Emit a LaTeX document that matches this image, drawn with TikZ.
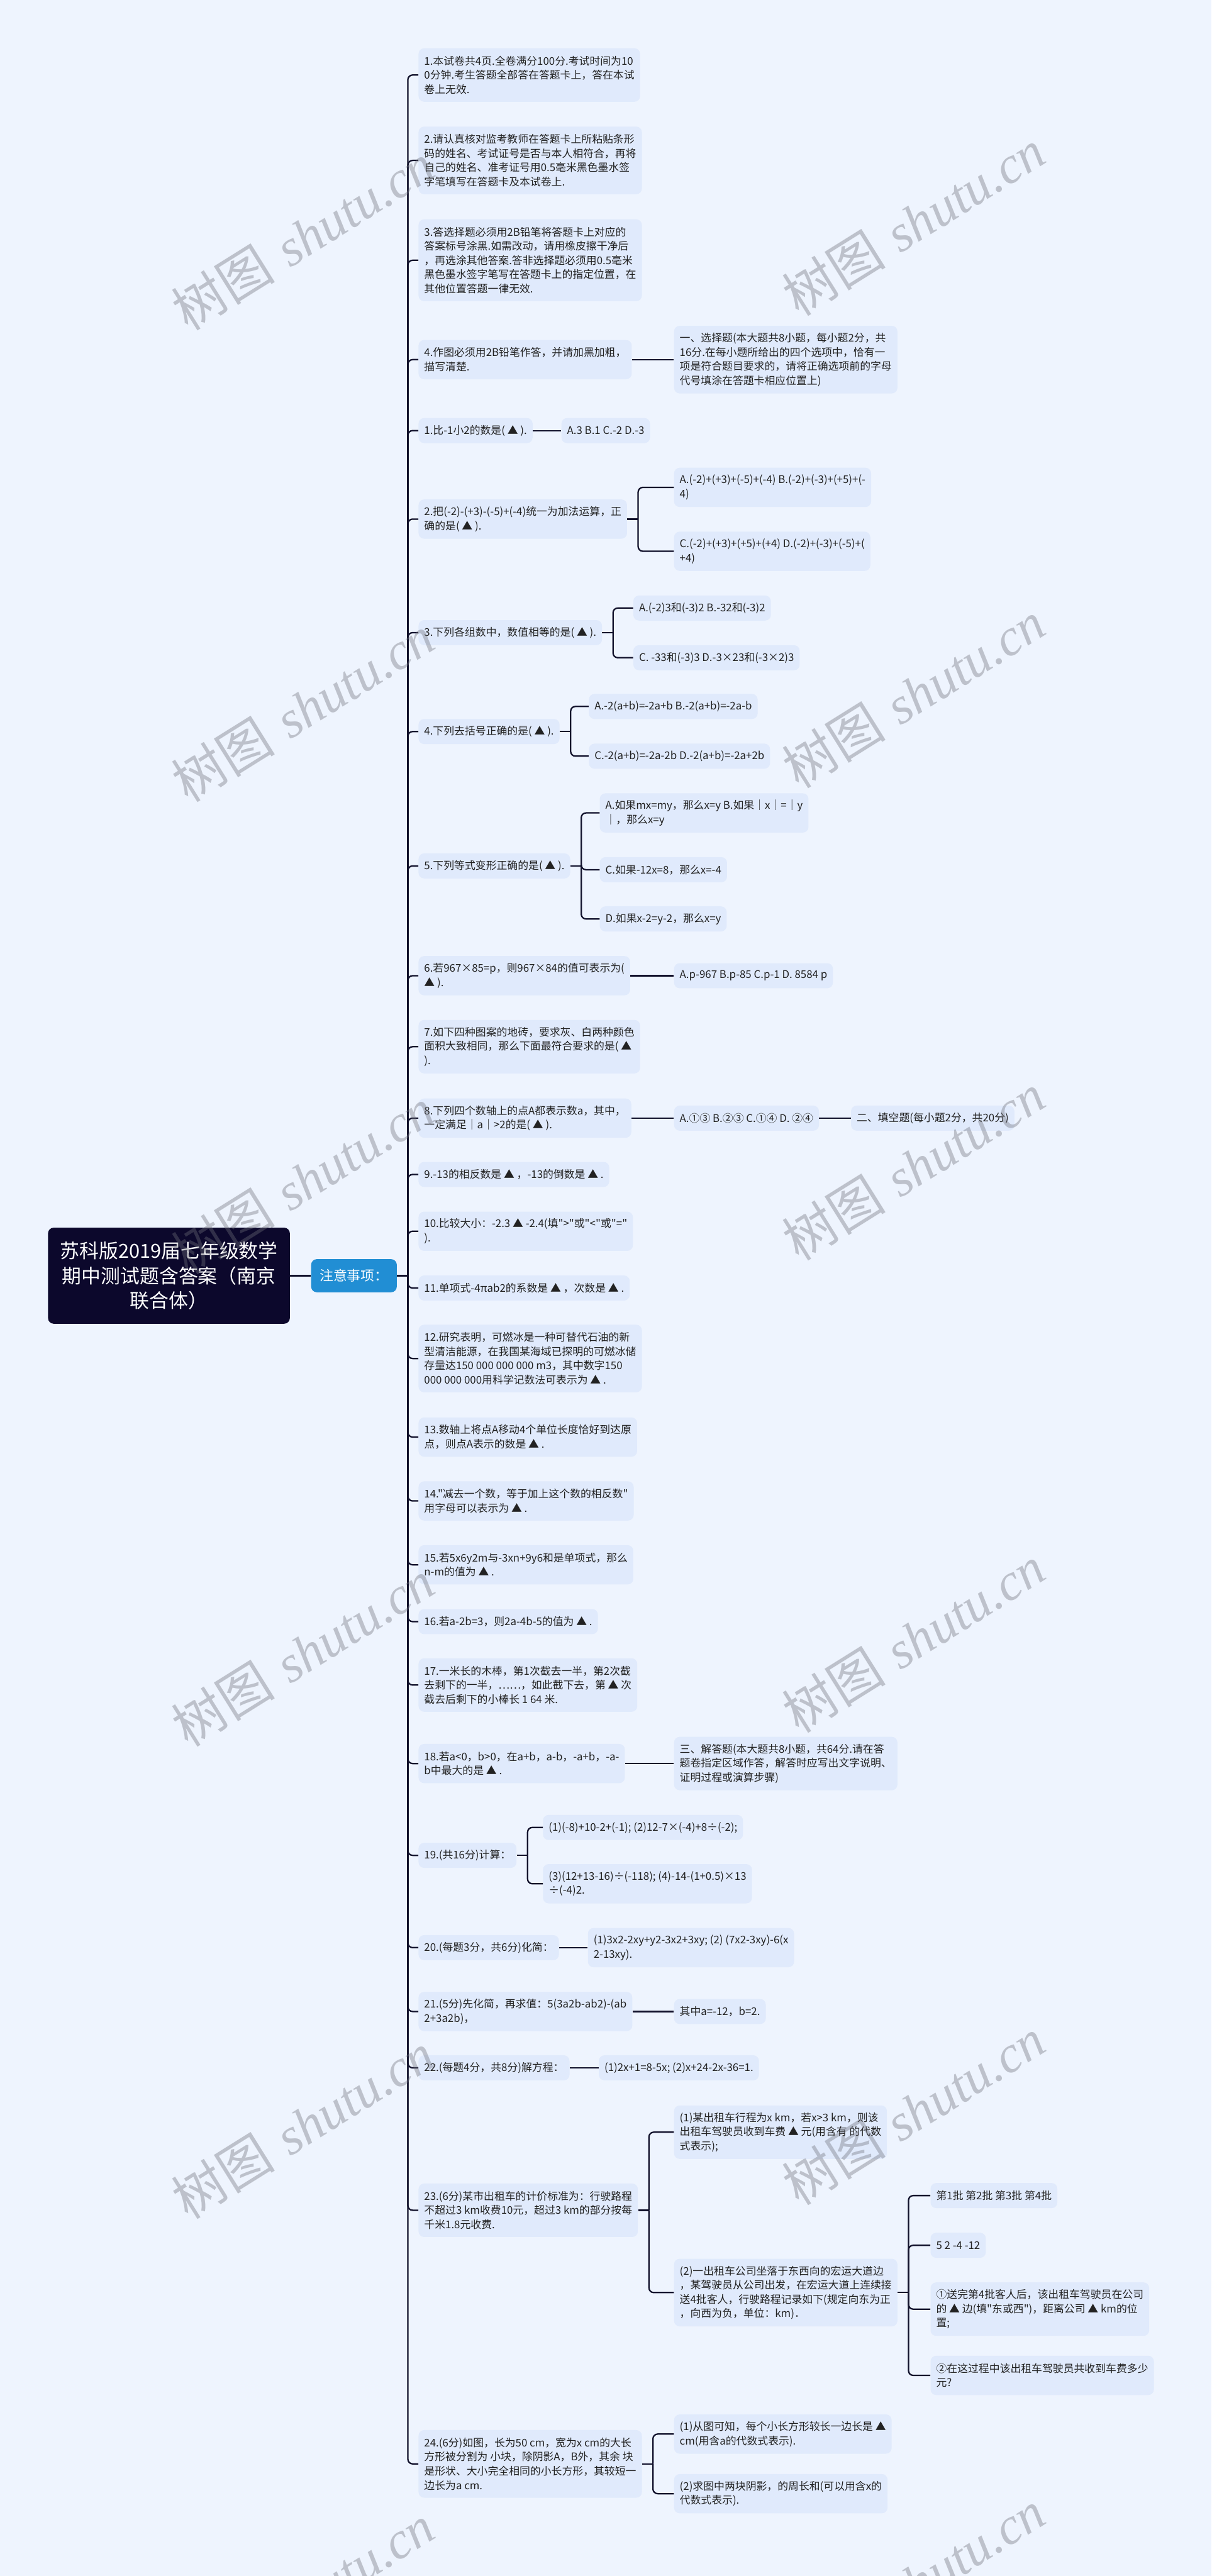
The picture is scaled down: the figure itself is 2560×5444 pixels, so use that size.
\documentclass[tikz,border=0pt]{standalone}
\usepackage{fontspec}
\newfontfamily\cjk[Ligatures=TeXOff]{Noto Sans CJK SC}
\newfontfamily\wmfont{Liberation Serif}
\usepackage{tikz}

\definecolor{bgc}{RGB}{238,244,254}
\definecolor{boxc}{RGB}{224,234,252}
\definecolor{linec}{RGB}{17,17,43}
\definecolor{rootc}{RGB}{12,8,44}
\definecolor{bluec}{RGB}{33,142,212}
\definecolor{txtc}{RGB}{34,34,34}
\definecolor{wmc}{RGB}{110,112,122}

\tikzset{
  item/.style={fill=boxc, rounded corners=6pt, anchor=west, align=left, text=txtc,
    inner xsep=6pt, inner ysep=3pt, font=\cjk\fontsize{11.2pt}{15pt}\selectfont},
  l1/.style={minimum height=26.5pt},
  l2/.style={minimum height=41.5pt},
  l3/.style={minimum height=56.5pt},
  l4/.style={minimum height=71.5pt},
  l5/.style={minimum height=86.5pt},
  conn/.style={draw=linec, line width=1.5pt},
  wm/.style={text=wmc, text opacity=0.38, rotate=32, font=\fontsize{55pt}{55pt}\selectfont}
}
\newdimen\jyy
\newdimen\cyy
% straight stub to the junction, then a rounded elbow into the child
\newcommand{\branch}[2]{%
  \draw[conn] (#1.east) -- ++(23,0) coordinate (j);
  \pgfextracty{\jyy}{\pgfpointanchor{j}{center}}%
  \pgfextracty{\cyy}{\pgfpointanchor{#2}{west}}%
  \advance\jyy by -\cyy
  \ifdim\jyy<0pt \jyy=-\jyy \fi
  \ifdim\jyy<1pt
    \draw[conn] (j) -- (#2.west);
  \else
    \draw[conn, rounded corners=5pt] (j) |- (#2.west);
  \fi}

\begin{document}
\begin{tikzpicture}[x=0.5pt, y=-0.5pt]
    \fill[bgc] (0,0) rectangle (2560,5444);
    \useasboundingbox (0,0) rectangle (2560,5444);

    \node[fill=rootc, rounded corners=6pt, text=white, align=center,
      minimum width=255.5pt, minimum height=101.5pt,
      font=\cjk\fontsize{20.5pt}{26.5pt}\selectfont] (root) at (357,2696)
      {苏科版2019届七年级数学\\期中测试题含答案（南京\\联合体）};
    \node[fill=bluec, rounded corners=6pt, text=white, minimum width=90.5pt,
      minimum height=35pt, font=\cjk\fontsize{14.5pt}{18pt}\selectfont] (note) at (748,2696) {注意事项：};

    % notes
    \node[item,l3] (n1) at (884,158.5) {1.本试卷共4页.全卷满分100分.考试时间为10\\0分钟.考生答题全部答在答题卡上，答在本试\\卷上无效.};
    \node[item,l4] (n2) at (884,339) {2.请认真核对监考教师在答题卡上所粘贴条形\\码的姓名、考试证号是否与本人相符合，再将\\自己的姓名、准考证号用0.5毫米黑色墨水签\\字笔填写在答题卡及本试卷上.};
    \node[item,l5] (n3) at (884,550) {3.答选择题必须用2B铅笔将答题卡上对应的\\答案标号涂黑.如需改动，请用橡皮擦干净后\\，再选涂其他答案.答非选择题必须用0.5毫米\\黑色墨水签字笔写在答题卡上的指定位置，在\\其他位置答题一律无效.};
    \node[item,l2] (n4) at (884,760) {4.作图必须用2B铅笔作答，并请加黑加粗，\\描写清楚.};
    \node[item,l4] (s1) at (1424,760) {一、选择题(本大题共8小题，每小题2分，共\\16分.在每小题所给出的四个选项中，恰有一\\项是符合题目要求的，请将正确选项前的字母\\代号填涂在答题卡相应位置上)};

    % questions 1-8
    \node[item,l1] (q1) at (884,910) {1.比-1小2的数是( ▲ ).};
    \node[item,l1] (a1) at (1186,910) {A.3 B.1 C.-2 D.-3};
    \node[item,l2] (q2) at (884,1097) {2.把(-2)-(+3)-(-5)+(-4)统一为加法运算，正\\确的是( ▲ ).};
    \node[item,l2] (a2a) at (1424,1030) {A.(-2)+(+3)+(-5)+(-4) B.(-2)+(-3)+(+5)+(-\\4)};
    \node[item,l2] (a2b) at (1424,1165) {C.(-2)+(+3)+(+5)+(+4) D.(-2)+(-3)+(-5)+(\\+4)};
    \node[item,l1] (q3) at (884,1337) {3.下列各组数中，数值相等的是( ▲ ).};
    \node[item,l1] (a3a) at (1338,1285) {A.(-2)3和(-3)2 B.-32和(-3)2};
    \node[item,l1] (a3b) at (1338,1390) {C. -33和(-3)3 D.-3×23和(-3×2)3};
    \node[item,l1] (q4) at (884,1546) {4.下列去括号正确的是( ▲ ).};
    \node[item,l1] (a4a) at (1244,1493) {A.-2(a+b)=-2a+b B.-2(a+b)=-2a-b};
    \node[item,l1] (a4b) at (1244,1598) {C.-2(a+b)=-2a-2b D.-2(a+b)=-2a+2b};
    \node[item,l1] (q5) at (884,1830) {5.下列等式变形正确的是( ▲ ).};
    \node[item,l2] (a5a) at (1267,1718) {A.如果mx=my，那么x=y B.如果｜x｜=｜y\\｜，那么x=y};
    \node[item,l1] (a5b) at (1267,1838) {C.如果-12x=8，那么x=-4};
    \node[item,l1] (a5c) at (1267,1942) {D.如果x-2=y-2，那么x=y};
    \node[item,l2] (q6) at (884,2062) {6.若967×85=p，则967×84的值可表示为(\\▲ ).};
    \node[item,l1] (a6) at (1424,2062) {A.p-967 B.p-85 C.p-1 D. 8584 p};
    \node[item,l3] (q7) at (884,2212) {7.如下四种图案的地砖，要求灰、白两种颜色\\面积大致相同，那么下面最符合要求的是( ▲\\).};
    \node[item,l2] (q8) at (884,2363) {8.下列四个数轴上的点A都表示数a，其中，\\一定满足｜a｜>2的是( ▲ ).};
    \node[item,l1] (a8) at (1424,2363) {A.①③ B.②③ C.①④ D. ②④};
    \node[item,l1] (s2) at (1798,2363) {二、填空题(每小题2分，共20分)};

    % questions 9-18
    \node[item,l1] (q9) at (884,2482) {9.-13的相反数是 ▲ ，-13的倒数是 ▲ .};
    \node[item,l2] (q10) at (884,2602) {10.比较大小：-2.3 ▲ -2.4(填">"或"<"或"="\\).};
    \node[item,l1] (q11) at (884,2722) {11.单项式-4πab2的系数是 ▲ ，次数是 ▲ .};
    \node[item,l4] (q12) at (884,2871) {12.研究表明，可燃冰是一种可替代石油的新\\型清洁能源，在我国某海域已探明的可燃冰储\\存量达150 000 000 000 m3，其中数字150\\000 000 000用科学记数法可表示为 ▲ .};
    \node[item,l2] (q13) at (884,3037) {13.数轴上将点A移动4个单位长度恰好到达原\\点，则点A表示的数是 ▲ .};
    \node[item,l2] (q14) at (884,3172) {14."减去一个数，等于加上这个数的相反数"\\用字母可以表示为 ▲ .};
    \node[item,l2] (q15) at (884,3307) {15.若5x6y2m与-3xn+9y6和是单项式，那么\\n-m的值为 ▲ .};
    \node[item,l1] (q16) at (884,3427) {16.若a-2b=3，则2a-4b-5的值为 ▲ .};
    \node[item,l3] (q17) at (884,3561) {17.一米长的木棒，第1次截去一半，第2次截\\去剩下的一半，……，如此截下去，第 ▲ 次\\截去后剩下的小棒长 1 64 米.};
    \node[item,l2] (q18) at (884,3727) {18.若a<0，b>0，在a+b，a-b，-a+b，-a-\\b中最大的是 ▲ .};
    \node[item,l3] (s3) at (1424,3727) {三、解答题(本大题共8小题，共64分.请在答\\题卷指定区域作答，解答时应写出文字说明、\\证明过程或演算步骤)};

    % questions 19-24
    \node[item,l1] (q19) at (884,3921) {19.(共16分)计算：};
    \node[item,l1] (a19a) at (1147,3862) {(1)(-8)+10-2+(-1); (2)12-7×(-4)+8÷(-2);};
    \node[item,l2] (a19b) at (1147,3981) {(3)(12+13-16)÷(-118); (4)-14-(1+0.5)×13\\÷(-4)2.};
    \node[item,l1] (q20) at (884,4116) {20.(每题3分，共6分)化简：};
    \node[item,l2] (a20) at (1242,4116) {(1)3x2-2xy+y2-3x2+3xy; (2) (7x2-3xy)-6(x\\2-13xy).};
    \node[item,l2] (q21) at (884,4251) {21.(5分)先化简，再求值：5(3a2b-ab2)-(ab\\2+3a2b)，};
    \node[item,l1] (a21) at (1424,4251) {其中a=-12，b=2.};
    \node[item,l1] (q22) at (884,4370) {22.(每题4分，共8分)解方程：};
    \node[item,l1] (a22) at (1265,4370) {(1)2x+1=8-5x; (2)x+24-2x-36=1.};
    \node[item,l3] (q23) at (884,4671) {23.(6分)某市出租车的计价标准为：行驶路程\\不超过3 km收费10元，超过3 km的部分按每\\千米1.8元收费.};
    \node[item,l3] (a23a) at (1424,4506) {(1)某出租车行程为x km，若x>3 km，则该\\出租车驾驶员收到车费 ▲ 元(用含有 的代数\\式表示);};
    \node[item,l4] (a23b) at (1424,4845) {(2)一出租车公司坐落于东西向的宏运大道边\\，某驾驶员从公司出发，在宏运大道上连续接\\送4批客人，行驶路程记录如下(规定向东为正\\，向西为负，单位：km)．};
    \node[item,l1] (b1) at (1966,4640) {第1批 第2批 第3批 第4批};
    \node[item,l1] (b2) at (1966,4745) {5 2 -4 -12};
    \node[item,l3] (b3) at (1966,4880) {①送完第4批客人后，该出租车驾驶员在公司\\的 ▲ 边(填"东或西")，距离公司 ▲ km的位\\置;};
    \node[item,l2] (b4) at (1966,5020) {②在这过程中该出租车驾驶员共收到车费多少\\元?};
    \node[item,l4] (q24) at (884,5207) {24.(6分)如图，长为50 cm，宽为x cm的大长\\方形被分割为 小块，除阴影A，B外，其余 块\\是形状、大小完全相同的小长方形，其较短一\\边长为a cm.};
    \node[item,l2] (a24a) at (1424,5144) {(1)从图可知，每个小长方形较长一边长是 ▲\\cm(用含a的代数式表示).};
    \node[item,l2] (a24b) at (1424,5270) {(2)求图中两块阴影，的周长和(可以用含x的\\代数式表示).};

    \foreach \p/\c in {root/note, note/n1, note/n2, note/n3, note/n4, note/q1, note/q2,
      note/q3, note/q4, note/q5, note/q6, note/q7, note/q8, note/q9, note/q10, note/q11,
      note/q12, note/q13, note/q14, note/q15, note/q16, note/q17, note/q18, note/q19,
      note/q20, note/q21, note/q22, note/q23, note/q24, n4/s1, q1/a1, q2/a2a, q2/a2b,
      q3/a3a, q3/a3b, q4/a4a, q4/a4b, q5/a5a, q5/a5b, q5/a5c, q6/a6, q8/a8, a8/s2,
      q18/s3, q19/a19a, q19/a19b, q20/a20, q21/a21, q22/a22, q23/a23a, q23/a23b,
      a23b/b1, a23b/b2, a23b/b3, a23b/b4, q24/a24a, q24/a24b}
      {\branch{\p}{\c}}

    % watermark
    \foreach \k in {0,...,5}
    {
      \node[wm] (wl\k) at (640,{500+998*\k}) {{\cjk 树图} {\wmfont\itshape shutu.cn}};
      \node[wm] (wr\k) at (1930,{470+998*\k}) {{\cjk 树图} {\wmfont\itshape shutu.cn}};
    }
\end{tikzpicture}
\end{document}
